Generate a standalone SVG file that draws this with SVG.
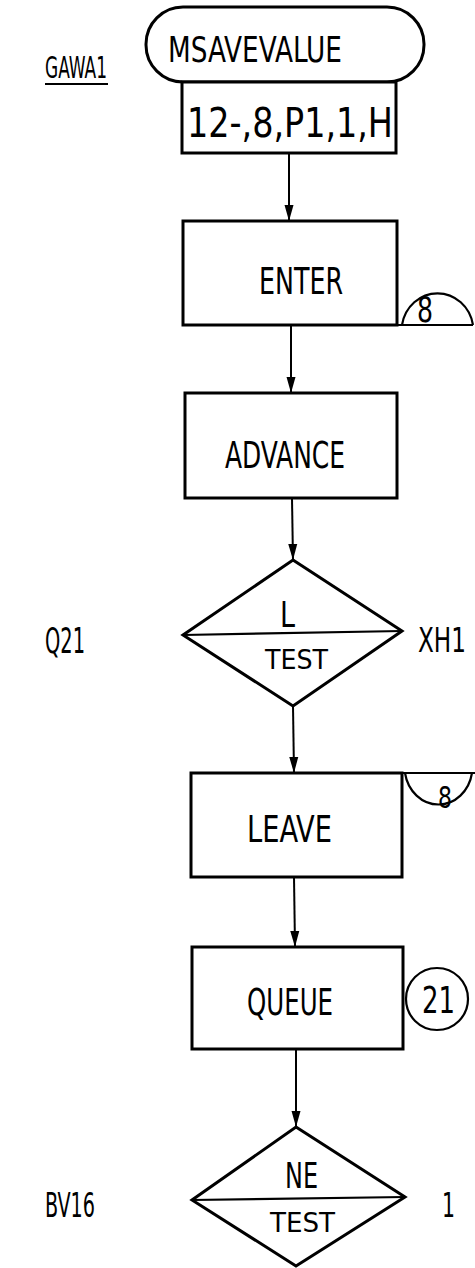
<svg xmlns="http://www.w3.org/2000/svg" width="475" height="1268" viewBox="0 0 475 1268">
<style>
.s{fill:#fff;stroke:#000;stroke-width:3}
.t{font-family:"Liberation Sans Narrow","DejaVu Sans Condensed","Liberation Sans",sans-serif;fill:#000}
.c{fill:none;stroke:#000;stroke-width:2}
.l{stroke:#000;stroke-width:2.2;fill:none}
</style>
<defs>
<marker id="a2" viewBox="0 0 16 10" refX="16" refY="5" markerWidth="16" markerHeight="10" markerUnits="userSpaceOnUse" orient="auto">
<path d="M0,0.5 L16,5 L0,9.5 Z" fill="#000"/>
</marker>
</defs>
<g id="connectors">
<line class="c" x1="289" y1="153" x2="289" y2="221" marker-end="url(#a2)"/>
<line class="c" x1="291" y1="325" x2="291" y2="393" marker-end="url(#a2)"/>
<line class="c" x1="292" y1="498" x2="293" y2="560" marker-end="url(#a2)"/>
<line class="c" x1="293" y1="706" x2="294" y2="773" marker-end="url(#a2)"/>
<line class="c" x1="294" y1="877" x2="295" y2="947" marker-end="url(#a2)"/>
<line class="c" x1="296" y1="1049" x2="296" y2="1127" marker-end="url(#a2)"/>
</g>
<g id="gawa1">
<text class="t" x="45" y="78" font-size="31" textLength="62" lengthAdjust="spacingAndGlyphs">GAWA1</text>
<line class="l" x1="45" y1="84" x2="108" y2="84"/>
</g>
<g id="msavevalue">
<rect class="s" x="146" y="7" width="278" height="75" rx="37" ry="37"/>
<text class="t" x="168" y="62" font-size="36" textLength="174" lengthAdjust="spacingAndGlyphs">MSAVEVALUE</text>
</g>
<g id="operands">
<rect class="s" x="182" y="82" width="214" height="71"/>
<text class="t" x="187" y="137" font-size="40" textLength="206" lengthAdjust="spacingAndGlyphs">12-,8,P1,1,H</text>
</g>
<g id="enter">
<rect class="s" x="183" y="221" width="214" height="104"/>
<text class="t" x="259" y="294" font-size="37" textLength="84" lengthAdjust="spacingAndGlyphs">ENTER</text>
</g>
<g id="enter-storage">
<path class="l" d="M397,325 H473 M402,325 A36,38 0 0 1 473,325"/>
<text class="t" x="417" y="322" font-size="35" textLength="16" lengthAdjust="spacingAndGlyphs">8</text>
</g>
<g id="advance">
<rect class="s" x="185" y="393" width="212" height="105"/>
<text class="t" x="225" y="468" font-size="37" textLength="120" lengthAdjust="spacingAndGlyphs">ADVANCE</text>
</g>
<g id="test1">
<polygon class="s" points="293,560 402,631 293,706 183,635"/>
<line class="l" x1="183" y1="635" x2="402" y2="631"/>
<text class="t" x="280" y="627" font-size="35" textLength="15" lengthAdjust="spacingAndGlyphs">L</text>
<text class="t" x="265" y="669" font-size="26" textLength="63" lengthAdjust="spacingAndGlyphs">TEST</text>
</g>
<text class="t" x="45" y="653" font-size="35" textLength="40" lengthAdjust="spacingAndGlyphs">Q21</text>
<text class="t" transform="translate(418 652) scale(0.78 1)" x="0" y="0" font-size="33">XH1</text>
<g id="leave">
<rect class="s" x="191" y="773" width="211" height="104"/>
<text class="t" x="247" y="842" font-size="37" textLength="85" lengthAdjust="spacingAndGlyphs">LEAVE</text>
</g>
<g id="leave-storage">
<path class="l" d="M402,773 H475 M405,773 A34,38 0 0 0 472,773"/>
<text class="t" x="438" y="808" font-size="31" textLength="14" lengthAdjust="spacingAndGlyphs">8</text>
</g>
<g id="queue">
<rect class="s" x="192" y="947" width="211" height="102"/>
<text class="t" x="247" y="1015" font-size="37" textLength="86" lengthAdjust="spacingAndGlyphs">QUEUE</text>
</g>
<g id="queue-id">
<circle class="l" cx="437" cy="999" r="31"/>
<text class="t" x="422" y="1013" font-size="37" textLength="33" lengthAdjust="spacingAndGlyphs">21</text>
</g>
<g id="test2">
<polygon class="s" points="296,1127 405,1197 296,1266 192,1200"/>
<line class="l" x1="192" y1="1200" x2="405" y2="1197"/>
<text class="t" x="285" y="1188" font-size="35" textLength="33" lengthAdjust="spacingAndGlyphs">NE</text>
<text class="t" x="270" y="1232" font-size="26" textLength="65" lengthAdjust="spacingAndGlyphs">TEST</text>
</g>
<text class="t" x="442" y="1217" font-size="33" textLength="13" lengthAdjust="spacingAndGlyphs">1</text>
<text class="t" x="45" y="1217" font-size="34" textLength="50" lengthAdjust="spacingAndGlyphs">BV16</text>
</svg>
